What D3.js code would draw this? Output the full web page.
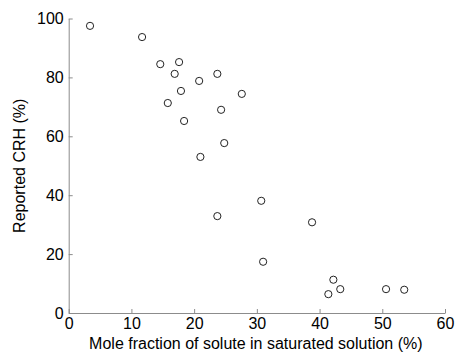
<!DOCTYPE html>
<html>
<head>
<meta charset="utf-8">
<script src="https://cdn.jsdelivr.net/npm/d3@7"></script>
<style>
  body { margin: 0; background: #fff; }
  text { font-family: "Liberation Sans", Arial, sans-serif; }
</style>
</head>
<body>
<div id="chart"></div>
<script>
// mole fraction of solute (%) and reported CRH (%)
var moleFraction = [3.4, 11.7, 14.6, 17.6, 16.9, 20.8, 23.7, 17.9, 27.6, 15.8, 24.3, 18.4,
                    24.8, 21.0, 30.7, 23.7, 38.8, 31.0, 42.2, 41.4, 43.3, 50.6, 53.5];
var crh = [97.5, 93.7, 84.5, 85.2, 81.2, 78.8, 81.2, 75.4, 74.4, 71.3, 69.0, 65.2,
           57.7, 53.0, 38.1, 32.9, 30.8, 17.4, 11.3, 6.4, 8.1, 8.1, 7.9];
var xTicks = [0, 10, 20, 30, 40, 50, 60];
var yTicks = [0, 20, 40, 60, 80, 100];

var width = 457, height = 352;
var margin = {top: 18.5, right: 12, bottom: 39, left: 68.7};

var svg = d3.select("#chart").append("svg")
  .attr("width", width)
  .attr("height", height);

var x = d3.scaleLinear().domain([0, 60]).range([margin.left, width - margin.right]);
var y = d3.scaleLinear().domain([0, 100]).range([height - margin.bottom, margin.top]);

// eje x
var gx = svg.append("g")
  .attr("transform", "translate(0," + y(0) + ")")
  .call(d3.axisBottom(x).tickValues(xTicks).tickSize(-4).tickPadding(5).tickSizeOuter(0));
// eje y
var gy = svg.append("g")
  .attr("transform", "translate(" + x(0) + ",0)")
  .call(d3.axisLeft(y).tickValues(yTicks).tickSize(-4).tickPadding(5).tickSizeOuter(0));

[gx, gy].forEach(function(g){
  g.select(".domain").attr("stroke", "#8c8c8c");
  g.selectAll(".tick line").attr("stroke", "#8c8c8c");
  g.selectAll(".tick text").attr("fill", "#000").style("font-size", "16px")
    .style("font-family", "'Liberation Sans', Arial, sans-serif");
});

svg.append("text")
  .attr("x", (x(0) + x(60)) / 2 - 1)
  .attr("y", height - 3)
  .attr("text-anchor", "middle")
  .style("font-size", "16px")
  .text("Mole fraction of solute in saturated solution (%)");

svg.append("text")
  .attr("transform", "translate(25," + ((y(0) + y(100)) / 2) + ") rotate(-90)")
  .attr("text-anchor", "middle")
  .style("font-size", "16px")
  .text("Reported CRH (%)");

svg.selectAll("circle.pt")
  .data(moleFraction)
  .enter()
  .append("circle")
  .attr("class", "pt")
  .attr("cx", function(d){ return x(d); })
  .attr("cy", function(d, i){ return y(crh[i]); })
  .attr("r", 3.6)
  .attr("fill", "none")
  .attr("stroke", "#222")
  .attr("stroke-width", 1);
</script>
</body>
</html>
